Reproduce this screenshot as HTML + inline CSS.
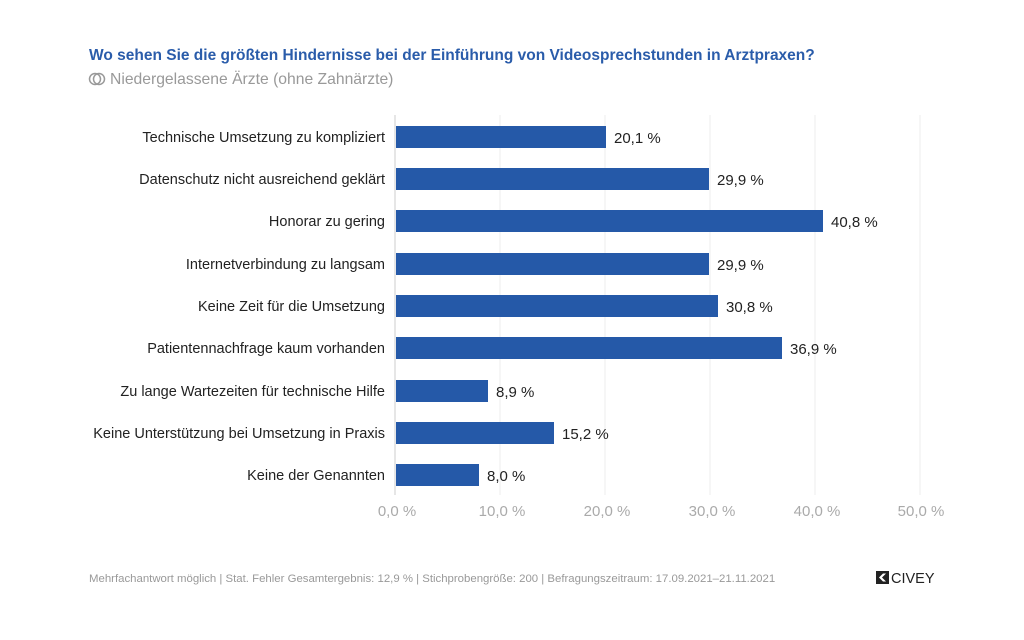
<!DOCTYPE html>
<html><head><meta charset="utf-8"><style>
html,body{margin:0;padding:0;background:#fff;}
svg{display:block;font-family:"Liberation Sans",sans-serif;}
</style></head><body>
<svg width="1024" height="640" viewBox="0 0 1024 640">
<text x="89" y="60" font-size="15.5" font-weight="bold" fill="#2a5caa">Wo sehen Sie die größten Hindernisse bei der Einführung von Videosprechstunden in Arztpraxen?</text>
<circle cx="95" cy="79" r="5.5" fill="none" stroke="#999" stroke-width="1.5"/>
<circle cx="99" cy="79" r="5.5" fill="none" stroke="#999" stroke-width="1.5"/>
<text x="110" y="84" font-size="15.7" fill="#999">Niedergelassene Ärzte (ohne Zahnärzte)</text>
<g stroke="#eeeeee" stroke-width="1">
<line x1="500" y1="115" x2="500" y2="495"/><line x1="605" y1="115" x2="605" y2="495"/>
<line x1="710" y1="115" x2="710" y2="495"/><line x1="815" y1="115" x2="815" y2="495"/>
<line x1="920" y1="115" x2="920" y2="495"/>
</g>
<line x1="395" y1="115" x2="395" y2="495" stroke="#ccc"/>
<g fill="#2559a8">
<rect x="396" y="126" width="210" height="22"/>
<rect x="396" y="168" width="313" height="22"/>
<rect x="396" y="210" width="427" height="22"/>
<rect x="396" y="253" width="313" height="22"/>
<rect x="396" y="295" width="322" height="22"/>
<rect x="396" y="337" width="386" height="22"/>
<rect x="396" y="380" width="92" height="22"/>
<rect x="396" y="422" width="158" height="22"/>
<rect x="396" y="464" width="83" height="22"/>
</g>
<g font-size="14.5" fill="#222" text-anchor="end">
<text x="385" y="142">Technische Umsetzung zu kompliziert</text>
<text x="385" y="184">Datenschutz nicht ausreichend geklärt</text>
<text x="385" y="226">Honorar zu gering</text>
<text x="385" y="269">Internetverbindung zu langsam</text>
<text x="385" y="311">Keine Zeit für die Umsetzung</text>
<text x="385" y="353">Patientennachfrage kaum vorhanden</text>
<text x="385" y="396">Zu lange Wartezeiten für technische Hilfe</text>
<text x="385" y="438">Keine Unterstützung bei Umsetzung in Praxis</text>
<text x="385" y="480">Keine der Genannten</text>
</g>
<g font-size="15" fill="#222">
<text x="614" y="143">20,1 %</text>
<text x="717" y="185">29,9 %</text>
<text x="831" y="227">40,8 %</text>
<text x="717" y="270">29,9 %</text>
<text x="726" y="312">30,8 %</text>
<text x="790" y="354">36,9 %</text>
<text x="496" y="397">8,9 %</text>
<text x="562" y="439">15,2 %</text>
<text x="487" y="481">8,0 %</text>
</g>
<g font-size="15" fill="#aaa" text-anchor="middle">
<text x="397" y="516">0,0 %</text><text x="502" y="516">10,0 %</text>
<text x="607" y="516">20,0 %</text><text x="712" y="516">30,0 %</text>
<text x="817" y="516">40,0 %</text><text x="921" y="516">50,0 %</text>
</g>
<text x="89" y="582" font-size="11.4" fill="#999">Mehrfachantwort möglich | Stat. Fehler Gesamtergebnis: 12,9 % | Stichprobengröße: 200 | Befragungszeitraum: 17.09.2021–21.11.2021</text>
<rect x="876" y="571" width="13" height="13" fill="#222"/>
<path d="M879 577.5 L883 573.5 L886 573.5 L882 577.5 L886 581.5 L883 581.5 Z" fill="#fff"/>
<text x="891" y="583" font-size="14.5" fill="#222">CIVEY</text>
</svg>
</body></html>
